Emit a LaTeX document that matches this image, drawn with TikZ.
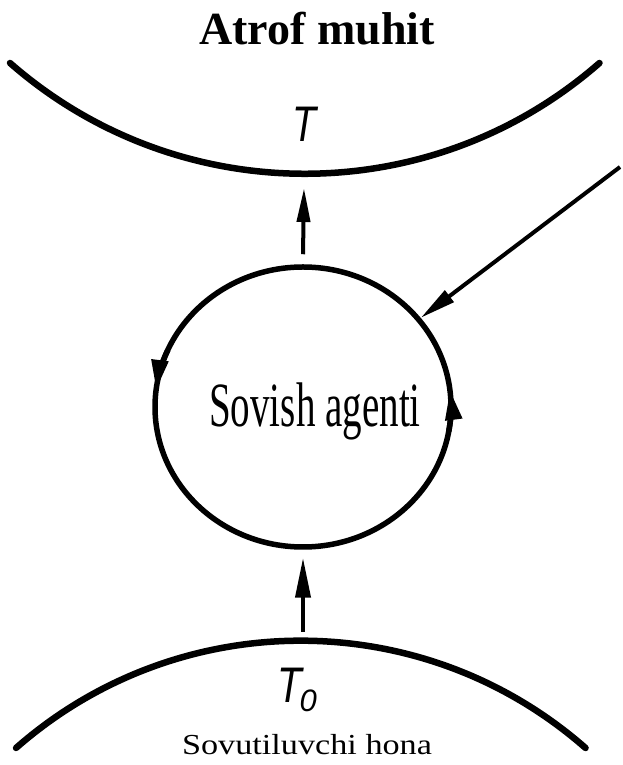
\documentclass[tikz,border=0pt]{standalone}
\usepackage{fontspec}
\setmainfont{Liberation Serif}
\newfontfamily\labelsans{Liberation Sans}
\usetikzlibrary{arrows.meta,shapes.geometric}

\tikzset{
  body/.style={line width=6.5pt, line cap=round},
  flow/.style={line width=4pt, -{Triangle[length=34pt,width=13pt]}},
  turn/.style={line width=5.5pt, -{Triangle[length=30pt,width=16pt]}},
  tlabel/.style={font=\labelsans\itshape\fontsize{50}{50}\selectfont, inner sep=0pt, anchor=base},
}

\begin{document}
\begin{tikzpicture}[x=1pt,y=1pt]
  \useasboundingbox (0,0) rectangle (622,765);

  % surroundings (hot side) and cold side as large arcs
  \draw[body] (10,702) arc[start angle=228.8, end angle=311.2, radius=447.5];
  \draw[body] (16,17) arc[start angle=131.3, end angle=48.7, radius=431.5];
  \coordinate (envbot) at (304,591);
  \coordinate (sinktop) at (303,125);
  \coordinate (feed) at (620,598);

  % working body
  \node[ellipse, draw, line width=5.5pt, minimum width=296pt, minimum height=280pt, inner sep=0pt]
    (agent) at (303,358) {};
  % direction of circulation inside the body
  \draw[turn] ([shift={(156:148 and 140)}]agent.center)
    arc[start angle=156, end angle=173, x radius=148, y radius=140];
  \draw[turn] ([shift={(-10:148 and 140)}]agent.center)
    arc[start angle=-10, end angle=7, x radius=148, y radius=140];

  \node[inner sep=0pt, anchor=base] (agentname) at (315,338)
    {\scalebox{0.62}[1]{\fontsize{63}{63}\selectfont Sovish agenti}};

  % labels
  \node[inner sep=0pt, anchor=base] (envname) at (317,720)
    {\fontsize{46}{46}\selectfont\bfseries Atrof muhit};
  \node[tlabel] (Thot) at (304,623) {\scalebox{0.78}[1]{T}};
  \node[tlabel, anchor=base west] (Tcold) at (277,62)
    {\scalebox{0.8}[1]{T}\kern-2pt\raisebox{-9pt}{\fontsize{31}{31}\selectfont 0}};
  \node[inner sep=0pt, anchor=base] (sinkname) at (307,10)
    {\scalebox{1.18}[1]{\fontsize{29}{29}\selectfont Sovutiluvchi hona}};

  % heat flows
  \draw[flow] ([yshift=10pt]agent.north) -- ([yshift=-14pt]envbot);
  \draw[flow, -{Triangle[length=40pt,width=15pt]}] ([yshift=8pt]sinktop) -- ([yshift=-8pt]agent.south);
  \draw[flow, -{Triangle[length=36pt,width=14pt]}] (feed) -- (agent);
\end{tikzpicture}
\end{document}
